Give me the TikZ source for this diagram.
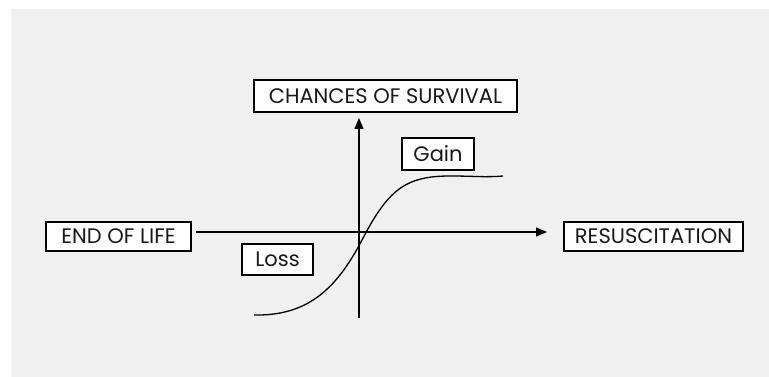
\documentclass[tikz,border=0pt]{standalone}
\usepackage{fontspec}
\setmainfont{Poppins}
\usetikzlibrary{arrows.meta}
\definecolor{bggray}{RGB}{240,240,240}
\tikzset{
  lbl/.style={draw=black, line width=1.3pt, fill=white, inner sep=0pt, font=\fontsize{21}{24}\selectfont, text=black!90},
  axis/.style={line width=1.3pt, -{Triangle[length=11pt,width=9pt]}},
  curve/.style={line width=1.3pt}
}
\begin{document}
\begin{tikzpicture}[x=1pt,y=-1pt]
\useasboundingbox (0,0) rectangle (769,377);
\fill[bggray] (11,9) rectangle (769,377);
% labels
\node[lbl, minimum width=263pt, minimum height=32pt] (cs) at (385.5,96) {CHANCES OF SURVIVAL};
\node[lbl, minimum width=72pt, minimum height=32pt] (gain) at (438,154) {Gain};
\node[lbl, minimum width=145pt, minimum height=29pt] (eol) at (118.5,236.5) {END OF LIFE};
\node[lbl, minimum width=179pt, minimum height=29pt] (res) at (653.5,236.5) {RESUSCITATION};
\node[lbl, minimum width=71pt, minimum height=31pt] (loss) at (277.5,259.5) {Loss};
% axes
\coordinate (hstart) at (196,232);
\coordinate (hend) at (547,232);
\coordinate (vbot) at (359,318);
\coordinate (vtop) at (359,118);
\draw[axis] (hstart) -- (hend);
\draw[axis] (vbot) -- (vtop);
% curve
\coordinate (c0) at (254,315);
\coordinate (cm) at (362,240);
\coordinate (c1) at (450,176);
\coordinate (c2) at (503,176);
\draw[curve] (c0) .. controls (305,316) and (335,292) .. (cm)
  .. controls (388,190) and (405,176) .. (c1)
  .. controls (475,176) and (485,177.5) .. (c2);
\end{tikzpicture}
\end{document}
